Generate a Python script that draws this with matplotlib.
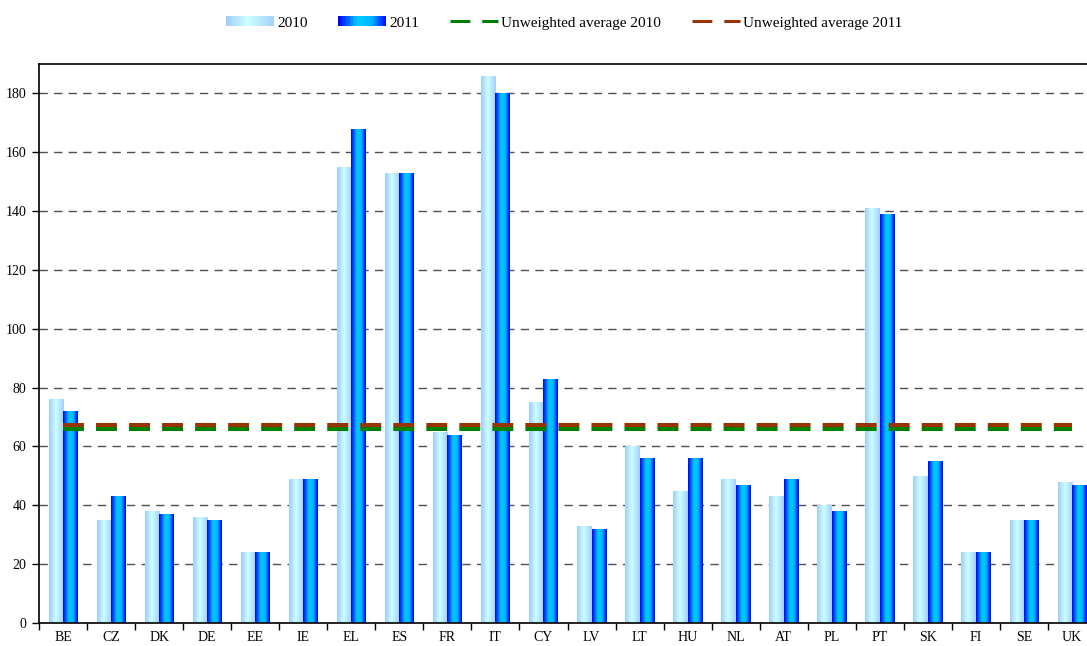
import numpy as np
import matplotlib
matplotlib.use("Agg")
import matplotlib.pyplot as plt
from matplotlib.colors import LinearSegmentedColormap
from matplotlib.patches import Rectangle
from matplotlib.lines import Line2D
from matplotlib.legend_handler import HandlerBase

plt.rcParams['font.family'] = ['Liberation Serif', 'DejaVu Serif']

# donnees
countries = ['BE', 'CZ', 'DK', 'DE', 'EE', 'IE', 'EL', 'ES', 'FR', 'IT', 'CY',
             'LV', 'LT', 'HU', 'NL', 'AT', 'PL', 'PT', 'SK', 'FI', 'SE', 'UK']
values_2010 = [76, 35, 38, 36, 24, 49, 155, 153, 65, 186, 75,
               33, 60, 45, 49, 43, 40, 141, 50, 24, 35, 48]
values_2011 = [72, 43, 37, 35, 24, 49, 168, 153, 64, 180, 83,
               32, 56, 56, 47, 49, 38, 139, 55, 24, 35, 47]
avg_2010 = 66.1
avg_2011 = 67.2
yticks = [0, 20, 40, 60, 80, 100, 120, 140, 160, 180]

cmap_2010 = LinearSegmentedColormap.from_list(
    'c2010', [(0, '#9fcdfb'), (0.45, '#ccffff'), (1, '#a4d0fc')])
cmap_2011 = LinearSegmentedColormap.from_list(
    'c2011', [(0, '#0000ff'), (0.4, '#00ccff'), (0.7, '#00b4ff'), (1, '#0000ff')])
grad = np.linspace(0, 1, 64).reshape(1, -1)


class GradientHandler(HandlerBase):
    """Rectangle de legende avec un degrade horizontal."""
    def __init__(self, cmap):
        super().__init__()
        self.cmap = cmap

    def create_artists(self, legend, orig_handle, xdescent, ydescent,
                       width, height, fontsize, trans):
        n = 30
        arts = []
        for k in range(n):
            r = Rectangle((-xdescent + width * k / n, -ydescent), width / n * 1.05, height,
                          facecolor=self.cmap((k + 0.5) / n), edgecolor='none',
                          transform=trans)
            arts.append(r)
        return arts


fig = plt.figure(figsize=(10.87, 6.46), dpi=100)
ax = fig.add_axes([39 / 1087, 1 - 623 / 646, 1057 / 1087, 559 / 646])

x = np.arange(len(countries))
w = 0.3

for vals, off, cmap in [(values_2010, -w / 2, cmap_2010), (values_2011, w / 2, cmap_2011)]:
    bars = ax.bar(x + off, vals, width=w, facecolor='none', edgecolor='none', zorder=2)
    for b in bars:
        x0 = b.get_x()
        im = ax.imshow(grad, cmap=cmap, aspect='auto', interpolation='bilinear',
                       extent=[x0, x0 + b.get_width(), 0, b.get_height()], zorder=2)
        im.set_clip_path(b)

# moyennes non ponderees
ax.plot([x[0], x[-1]], [avg_2010, avg_2010], color='#008000', lw=2.9,
        dashes=(5.2, 3.0), solid_capstyle='butt', dash_capstyle='butt', zorder=3)
ax.plot([x[0], x[-1]], [avg_2011, avg_2011], color='#993300', lw=2.9,
        dashes=(5.2, 3.0), solid_capstyle='butt', dash_capstyle='butt', zorder=4)

ax.set_xlim(-0.5, len(countries) - 0.5)
ax.set_ylim(0, 190)

ax.set_yticks(yticks)
ax.yaxis.grid(True, color='#505050', linestyle=(0, (6, 4.5)), linewidth=1.0)
ax.set_axisbelow(True)
ax.tick_params(axis='y', direction='out', length=5, width=1, labelsize=10, pad=4)

ax.set_xticks(np.arange(len(countries) + 1) - 0.5)
ax.set_xticklabels([])
ax.set_xticks(x, minor=True)
ax.set_xticklabels(countries, minor=True)
ax.tick_params(axis='x', which='major', direction='out', length=5, width=1)
ax.tick_params(axis='x', which='minor', length=0, labelsize=10, pad=6)

for s in ['left', 'bottom', 'top']:
    ax.spines[s].set_linewidth(1.2)
ax.spines['right'].set_visible(False)

handles = [Rectangle((0, 0), 1, 1), Rectangle((0, 0), 1, 1),
           Line2D([], [], color='#993300', lw=2.2, dashes=(6.5, 3.9)),
           Line2D([], [], color='#993300', lw=2.2, dashes=(6.5, 3.9))]
handles[2].set_color('#008000')
labels = ['2010', '2011', 'Unweighted average 2010', 'Unweighted average 2011']
fig.legend(handles, labels, loc='center', bbox_to_anchor=(564 / 1087, 1 - 23 / 646),
           ncol=4, frameon=False, fontsize=11, handlelength=3.15, handleheight=0.6,
           handletextpad=0.2, columnspacing=2.0,
           handler_map={handles[0]: GradientHandler(cmap_2010),
                        handles[1]: GradientHandler(cmap_2011)})

fig.savefig('out.png', dpi=100)
